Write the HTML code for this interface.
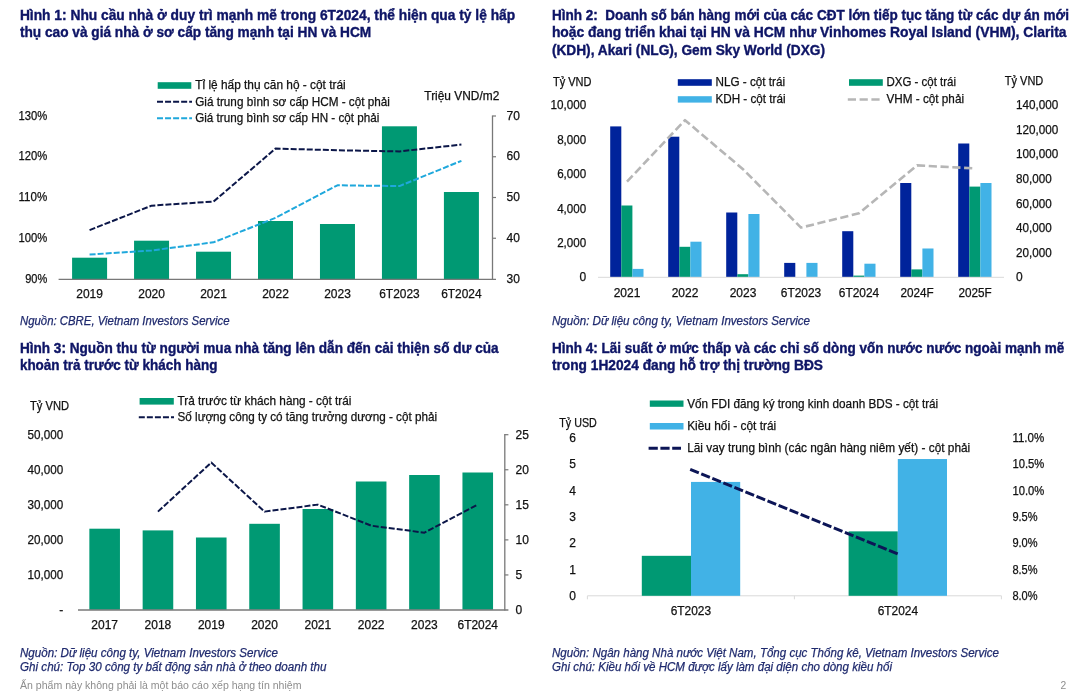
<!DOCTYPE html>
<html lang="vi">
<head>
<meta charset="utf-8">
<title>Hình 1–4</title>
<style>
html,body{margin:0;padding:0;background:#fff;}
body{width:1072px;height:695px;overflow:hidden;}
svg{display:block;font-family:"Liberation Sans",sans-serif;}
</style>
</head>
<body>
<svg width="1072" height="695" viewBox="0 0 1072 695">
<rect width="1072" height="695" fill="#ffffff"/>
<text x="19.90" y="20.00" font-size="15.0" fill="#0e1566" font-weight="bold" textLength="495.30" lengthAdjust="spacingAndGlyphs" stroke="#0e1566" stroke-width="0.4">Hình 1: Nhu cầu nhà ở duy trì mạnh mẽ trong 6T2024, thể hiện qua tỷ lệ hấp</text>
<text x="19.90" y="36.90" font-size="15.0" fill="#0e1566" font-weight="bold" textLength="351.30" lengthAdjust="spacingAndGlyphs" stroke="#0e1566" stroke-width="0.4">thụ cao và giá nhà ở sơ cấp tăng mạnh tại HN và HCM</text>
<text x="551.90" y="20.00" font-size="15.0" fill="#0e1566" font-weight="bold" textLength="517.10" lengthAdjust="spacingAndGlyphs" stroke="#0e1566" stroke-width="0.4" xml:space="preserve">Hình 2:  Doanh số bán hàng mới của các CĐT lớn tiếp tục tăng từ các dự án mới</text>
<text x="551.90" y="36.90" font-size="15.0" fill="#0e1566" font-weight="bold" textLength="514.60" lengthAdjust="spacingAndGlyphs" stroke="#0e1566" stroke-width="0.4">hoặc đang triển khai tại HN và HCM như Vinhomes Royal Island (VHM), Clarita</text>
<text x="551.90" y="54.60" font-size="15.0" fill="#0e1566" font-weight="bold" textLength="273.10" lengthAdjust="spacingAndGlyphs" stroke="#0e1566" stroke-width="0.4">(KDH), Akari (NLG), Gem Sky World (DXG)</text>
<text x="19.90" y="353.20" font-size="15.0" fill="#0e1566" font-weight="bold" textLength="478.70" lengthAdjust="spacingAndGlyphs" stroke="#0e1566" stroke-width="0.4">Hình 3: Nguồn thu từ người mua nhà tăng lên dẫn đến cải thiện số dư của</text>
<text x="19.90" y="370.10" font-size="15.0" fill="#0e1566" font-weight="bold" textLength="197.60" lengthAdjust="spacingAndGlyphs" stroke="#0e1566" stroke-width="0.4">khoản trả trước từ khách hàng</text>
<text x="551.90" y="353.20" font-size="15.0" fill="#0e1566" font-weight="bold" textLength="512.30" lengthAdjust="spacingAndGlyphs" stroke="#0e1566" stroke-width="0.4">Hình 4: Lãi suất ở mức thấp và các chỉ số dòng vốn nước nước ngoài mạnh mẽ</text>
<text x="551.90" y="370.10" font-size="15.0" fill="#0e1566" font-weight="bold" textLength="271.10" lengthAdjust="spacingAndGlyphs" stroke="#0e1566" stroke-width="0.4">trong 1H2024 đang hỗ trợ thị trường BĐS</text>
<rect x="72.09" y="257.70" width="35.00" height="21.30" fill="#009973"/>
<rect x="134.06" y="240.70" width="35.00" height="38.30" fill="#009973"/>
<rect x="196.03" y="251.70" width="35.00" height="27.30" fill="#009973"/>
<rect x="258.00" y="221.00" width="35.00" height="58.00" fill="#009973"/>
<rect x="319.97" y="224.00" width="35.00" height="55.00" fill="#009973"/>
<rect x="381.94" y="126.30" width="35.00" height="152.70" fill="#009973"/>
<rect x="443.91" y="192.00" width="35.00" height="87.00" fill="#009973"/>
<line x1="58.60" y1="279.30" x2="496.00" y2="279.30" stroke="#787878" stroke-width="1.3"/>
<line x1="492.50" y1="115.50" x2="492.50" y2="279.80" stroke="#787878" stroke-width="1.3"/>
<line x1="492.50" y1="238.25" x2="496.00" y2="238.25" stroke="#787878" stroke-width="1.2"/>
<line x1="492.50" y1="197.50" x2="496.00" y2="197.50" stroke="#787878" stroke-width="1.2"/>
<line x1="492.50" y1="156.75" x2="496.00" y2="156.75" stroke="#787878" stroke-width="1.2"/>
<line x1="492.50" y1="116.00" x2="496.00" y2="116.00" stroke="#787878" stroke-width="1.2"/>
<text x="47.20" y="283.15" font-size="12.0" fill="#111111" text-anchor="end" textLength="22.04" lengthAdjust="spacingAndGlyphs" stroke="#111111" stroke-width="0.25">90%</text>
<text x="506.60" y="283.05" font-size="12.0" fill="#111111" textLength="13.34" lengthAdjust="spacingAndGlyphs" stroke="#111111" stroke-width="0.25">30</text>
<text x="47.20" y="242.35" font-size="12.0" fill="#111111" text-anchor="end" textLength="28.71" lengthAdjust="spacingAndGlyphs" stroke="#111111" stroke-width="0.25">100%</text>
<text x="506.60" y="242.35" font-size="12.0" fill="#111111" textLength="13.34" lengthAdjust="spacingAndGlyphs" stroke="#111111" stroke-width="0.25">40</text>
<text x="47.20" y="201.15" font-size="12.0" fill="#111111" text-anchor="end" textLength="28.71" lengthAdjust="spacingAndGlyphs" stroke="#111111" stroke-width="0.25">110%</text>
<text x="506.60" y="201.15" font-size="12.0" fill="#111111" textLength="13.34" lengthAdjust="spacingAndGlyphs" stroke="#111111" stroke-width="0.25">50</text>
<text x="47.20" y="160.15" font-size="12.0" fill="#111111" text-anchor="end" textLength="28.71" lengthAdjust="spacingAndGlyphs" stroke="#111111" stroke-width="0.25">120%</text>
<text x="506.60" y="160.15" font-size="12.0" fill="#111111" textLength="13.34" lengthAdjust="spacingAndGlyphs" stroke="#111111" stroke-width="0.25">60</text>
<text x="47.20" y="120.05" font-size="12.0" fill="#111111" text-anchor="end" textLength="28.71" lengthAdjust="spacingAndGlyphs" stroke="#111111" stroke-width="0.25">130%</text>
<text x="506.60" y="120.05" font-size="12.0" fill="#111111" textLength="13.34" lengthAdjust="spacingAndGlyphs" stroke="#111111" stroke-width="0.25">70</text>
<text x="89.59" y="298.05" font-size="12.0" fill="#111111" text-anchor="middle" textLength="26.68" lengthAdjust="spacingAndGlyphs" stroke="#111111" stroke-width="0.25">2019</text>
<text x="151.56" y="298.05" font-size="12.0" fill="#111111" text-anchor="middle" textLength="26.68" lengthAdjust="spacingAndGlyphs" stroke="#111111" stroke-width="0.25">2020</text>
<text x="213.53" y="298.05" font-size="12.0" fill="#111111" text-anchor="middle" textLength="26.68" lengthAdjust="spacingAndGlyphs" stroke="#111111" stroke-width="0.25">2021</text>
<text x="275.50" y="298.05" font-size="12.0" fill="#111111" text-anchor="middle" textLength="26.68" lengthAdjust="spacingAndGlyphs" stroke="#111111" stroke-width="0.25">2022</text>
<text x="337.47" y="298.05" font-size="12.0" fill="#111111" text-anchor="middle" textLength="26.68" lengthAdjust="spacingAndGlyphs" stroke="#111111" stroke-width="0.25">2023</text>
<text x="399.44" y="298.05" font-size="12.0" fill="#111111" text-anchor="middle" textLength="40.44" lengthAdjust="spacingAndGlyphs" stroke="#111111" stroke-width="0.25">6T2023</text>
<text x="461.41" y="298.05" font-size="12.0" fill="#111111" text-anchor="middle" textLength="40.44" lengthAdjust="spacingAndGlyphs" stroke="#111111" stroke-width="0.25">6T2024</text>
<polyline points="89.59,254.55 151.56,250.47 213.53,242.32 275.50,217.88 337.47,185.28 399.44,186.09 461.41,160.82" fill="none" stroke="#1fa8dc" stroke-width="2.0" stroke-dasharray="6 2.05" stroke-linejoin="round"/>
<polyline points="89.59,230.10 151.56,205.65 213.53,201.57 275.50,148.60 337.47,150.23 399.44,151.45 461.41,144.53" fill="none" stroke="#0b1648" stroke-width="2.0" stroke-dasharray="6 2.05" stroke-linejoin="round"/>
<rect x="157.70" y="82.20" width="33.60" height="6.60" fill="#009973"/>
<text x="195.20" y="89.35" font-size="12.0" fill="#111111" textLength="150.50" lengthAdjust="spacingAndGlyphs" stroke="#111111" stroke-width="0.25">Tỉ lệ hấp thụ căn hộ - cột trái</text>
<line x1="157" y1="101.8" x2="192" y2="101.8" stroke="#0b1648" stroke-width="2" stroke-dasharray="6 2.05"/>
<text x="195.20" y="105.75" font-size="12.0" fill="#111111" textLength="194.70" lengthAdjust="spacingAndGlyphs" stroke="#111111" stroke-width="0.25">Giá trung bình sơ cấp HCM - cột phải</text>
<line x1="157" y1="118.2" x2="192" y2="118.2" stroke="#1fa8dc" stroke-width="2" stroke-dasharray="6 2.05"/>
<text x="195.20" y="121.65" font-size="12.0" fill="#111111" textLength="184.20" lengthAdjust="spacingAndGlyphs" stroke="#111111" stroke-width="0.25">Giá trung bình sơ cấp HN - cột phải</text>
<text x="424.30" y="99.85" font-size="12.0" fill="#111111" textLength="75.00" lengthAdjust="spacingAndGlyphs" stroke="#111111" stroke-width="0.25">Triệu VND/m2</text>
<text x="20.00" y="324.95" font-size="12.0" fill="#1f2a6e" font-style="italic" textLength="209.50" lengthAdjust="spacingAndGlyphs" stroke="#1f2a6e" stroke-width="0.25">Nguồn: CBRE, Vietnam Investors Service</text>
<rect x="610.20" y="126.40" width="11.10" height="150.60" fill="#00239b"/>
<rect x="621.30" y="205.50" width="11.10" height="71.50" fill="#009973"/>
<rect x="632.40" y="268.90" width="11.10" height="8.10" fill="#41b2e6"/>
<rect x="668.20" y="136.70" width="11.10" height="140.30" fill="#00239b"/>
<rect x="679.30" y="246.80" width="11.10" height="30.20" fill="#009973"/>
<rect x="690.40" y="241.70" width="11.10" height="35.30" fill="#41b2e6"/>
<rect x="726.20" y="212.50" width="11.10" height="64.50" fill="#00239b"/>
<rect x="737.30" y="274.20" width="11.10" height="2.80" fill="#009973"/>
<rect x="748.40" y="214.00" width="11.10" height="63.00" fill="#41b2e6"/>
<rect x="784.20" y="262.90" width="11.10" height="14.10" fill="#00239b"/>
<rect x="806.40" y="262.90" width="11.10" height="14.10" fill="#41b2e6"/>
<rect x="842.20" y="231.20" width="11.10" height="45.80" fill="#00239b"/>
<rect x="853.30" y="275.60" width="11.10" height="1.40" fill="#009973"/>
<rect x="864.40" y="263.70" width="11.10" height="13.30" fill="#41b2e6"/>
<rect x="900.20" y="183.00" width="11.10" height="94.00" fill="#00239b"/>
<rect x="911.30" y="269.40" width="11.10" height="7.60" fill="#009973"/>
<rect x="922.40" y="248.50" width="11.10" height="28.50" fill="#41b2e6"/>
<rect x="958.20" y="143.50" width="11.10" height="133.50" fill="#00239b"/>
<rect x="969.30" y="186.60" width="11.10" height="90.40" fill="#009973"/>
<rect x="980.40" y="183.00" width="11.10" height="94.00" fill="#41b2e6"/>
<line x1="598.00" y1="277.30" x2="1004.00" y2="277.30" stroke="#d9d9d9" stroke-width="1"/>
<polyline points="627.00,181.60 685.00,120.20 743.00,169.20 801.00,227.60 859.00,213.30 917.00,165.40 975.00,168.40" fill="none" stroke="#b6b6b6" stroke-width="2.6" stroke-dasharray="8.2 3.6" stroke-linejoin="round"/>
<text x="586.20" y="281.45" font-size="12.0" fill="#111111" text-anchor="end" stroke="#111111" stroke-width="0.25">0</text>
<text x="586.20" y="246.95" font-size="12.0" fill="#111111" text-anchor="end" textLength="29.02" lengthAdjust="spacingAndGlyphs" stroke="#111111" stroke-width="0.25">2,000</text>
<text x="586.20" y="212.55" font-size="12.0" fill="#111111" text-anchor="end" textLength="29.02" lengthAdjust="spacingAndGlyphs" stroke="#111111" stroke-width="0.25">4,000</text>
<text x="586.20" y="178.15" font-size="12.0" fill="#111111" text-anchor="end" textLength="29.02" lengthAdjust="spacingAndGlyphs" stroke="#111111" stroke-width="0.25">6,000</text>
<text x="586.20" y="143.95" font-size="12.0" fill="#111111" text-anchor="end" textLength="29.02" lengthAdjust="spacingAndGlyphs" stroke="#111111" stroke-width="0.25">8,000</text>
<text x="586.20" y="109.15" font-size="12.0" fill="#111111" text-anchor="end" textLength="35.69" lengthAdjust="spacingAndGlyphs" stroke="#111111" stroke-width="0.25">10,000</text>
<text x="1016.00" y="281.45" font-size="12.0" fill="#111111" stroke="#111111" stroke-width="0.25">0</text>
<text x="1016.00" y="256.82" font-size="12.0" fill="#111111" textLength="35.69" lengthAdjust="spacingAndGlyphs" stroke="#111111" stroke-width="0.25">20,000</text>
<text x="1016.00" y="232.19" font-size="12.0" fill="#111111" textLength="35.69" lengthAdjust="spacingAndGlyphs" stroke="#111111" stroke-width="0.25">40,000</text>
<text x="1016.00" y="207.56" font-size="12.0" fill="#111111" textLength="35.69" lengthAdjust="spacingAndGlyphs" stroke="#111111" stroke-width="0.25">60,000</text>
<text x="1016.00" y="182.94" font-size="12.0" fill="#111111" textLength="35.69" lengthAdjust="spacingAndGlyphs" stroke="#111111" stroke-width="0.25">80,000</text>
<text x="1016.00" y="158.31" font-size="12.0" fill="#111111" textLength="42.36" lengthAdjust="spacingAndGlyphs" stroke="#111111" stroke-width="0.25">100,000</text>
<text x="1016.00" y="133.68" font-size="12.0" fill="#111111" textLength="42.36" lengthAdjust="spacingAndGlyphs" stroke="#111111" stroke-width="0.25">120,000</text>
<text x="1016.00" y="109.05" font-size="12.0" fill="#111111" textLength="42.36" lengthAdjust="spacingAndGlyphs" stroke="#111111" stroke-width="0.25">140,000</text>
<text x="627.00" y="296.85" font-size="12.0" fill="#111111" text-anchor="middle" textLength="26.68" lengthAdjust="spacingAndGlyphs" stroke="#111111" stroke-width="0.25">2021</text>
<text x="685.00" y="296.85" font-size="12.0" fill="#111111" text-anchor="middle" textLength="26.68" lengthAdjust="spacingAndGlyphs" stroke="#111111" stroke-width="0.25">2022</text>
<text x="743.00" y="296.85" font-size="12.0" fill="#111111" text-anchor="middle" textLength="26.68" lengthAdjust="spacingAndGlyphs" stroke="#111111" stroke-width="0.25">2023</text>
<text x="801.00" y="296.85" font-size="12.0" fill="#111111" text-anchor="middle" textLength="40.44" lengthAdjust="spacingAndGlyphs" stroke="#111111" stroke-width="0.25">6T2023</text>
<text x="859.00" y="296.85" font-size="12.0" fill="#111111" text-anchor="middle" textLength="40.44" lengthAdjust="spacingAndGlyphs" stroke="#111111" stroke-width="0.25">6T2024</text>
<text x="917.00" y="296.85" font-size="12.0" fill="#111111" text-anchor="middle" textLength="33.25" lengthAdjust="spacingAndGlyphs" stroke="#111111" stroke-width="0.25">2024F</text>
<text x="975.00" y="296.85" font-size="12.0" fill="#111111" text-anchor="middle" textLength="33.25" lengthAdjust="spacingAndGlyphs" stroke="#111111" stroke-width="0.25">2025F</text>
<text x="553.00" y="86.05" font-size="12.0" fill="#111111" textLength="38.50" lengthAdjust="spacingAndGlyphs" stroke="#111111" stroke-width="0.25">Tỷ VND</text>
<text x="1004.80" y="84.85" font-size="12.0" fill="#111111" textLength="38.50" lengthAdjust="spacingAndGlyphs" stroke="#111111" stroke-width="0.25">Tỷ VND</text>
<rect x="677.80" y="79.20" width="34.00" height="6.60" fill="#00239b"/>
<text x="715.50" y="86.25" font-size="12.0" fill="#111111" textLength="69.50" lengthAdjust="spacingAndGlyphs" stroke="#111111" stroke-width="0.25">NLG - cột trái</text>
<rect x="677.80" y="96.20" width="34.00" height="6.40" fill="#41b2e6"/>
<text x="715.50" y="103.25" font-size="12.0" fill="#111111" textLength="70.00" lengthAdjust="spacingAndGlyphs" stroke="#111111" stroke-width="0.25">KDH - cột trái</text>
<rect x="849.00" y="79.20" width="33.80" height="6.60" fill="#009973"/>
<text x="886.50" y="86.25" font-size="12.0" fill="#111111" textLength="69.50" lengthAdjust="spacingAndGlyphs" stroke="#111111" stroke-width="0.25">DXG - cột trái</text>
<line x1="847.8" y1="99.5" x2="880" y2="99.5" stroke="#b6b6b6" stroke-width="2.6" stroke-dasharray="8.2 3.6"/>
<text x="886.50" y="103.25" font-size="12.0" fill="#111111" textLength="77.50" lengthAdjust="spacingAndGlyphs" stroke="#111111" stroke-width="0.25">VHM - cột phải</text>
<text x="552.00" y="324.95" font-size="12.0" fill="#1f2a6e" font-style="italic" textLength="258.00" lengthAdjust="spacingAndGlyphs" stroke="#1f2a6e" stroke-width="0.25">Nguồn: Dữ liệu công ty, Vietnam Investors Service</text>
<rect x="89.35" y="528.70" width="30.60" height="81.10" fill="#009973"/>
<rect x="142.65" y="530.40" width="30.60" height="79.40" fill="#009973"/>
<rect x="195.95" y="537.50" width="30.60" height="72.30" fill="#009973"/>
<rect x="249.25" y="523.80" width="30.60" height="86.00" fill="#009973"/>
<rect x="302.55" y="509.00" width="30.60" height="100.80" fill="#009973"/>
<rect x="355.85" y="481.50" width="30.60" height="128.30" fill="#009973"/>
<rect x="409.15" y="475.00" width="30.60" height="134.80" fill="#009973"/>
<rect x="462.45" y="472.50" width="30.60" height="137.30" fill="#009973"/>
<line x1="78.00" y1="610.00" x2="508.40" y2="610.00" stroke="#787878" stroke-width="1.3"/>
<line x1="504.80" y1="434.10" x2="504.80" y2="610.60" stroke="#787878" stroke-width="1.3"/>
<line x1="504.80" y1="574.94" x2="508.40" y2="574.94" stroke="#787878" stroke-width="1.2"/>
<line x1="504.80" y1="539.88" x2="508.40" y2="539.88" stroke="#787878" stroke-width="1.2"/>
<line x1="504.80" y1="504.82" x2="508.40" y2="504.82" stroke="#787878" stroke-width="1.2"/>
<line x1="504.80" y1="469.76" x2="508.40" y2="469.76" stroke="#787878" stroke-width="1.2"/>
<line x1="504.80" y1="434.70" x2="508.40" y2="434.70" stroke="#787878" stroke-width="1.2"/>
<text x="63.30" y="613.85" font-size="12.0" fill="#111111" text-anchor="end" stroke="#111111" stroke-width="0.25">-</text>
<text x="515.60" y="613.85" font-size="12.0" fill="#111111" stroke="#111111" stroke-width="0.25">0</text>
<text x="63.30" y="578.79" font-size="12.0" fill="#111111" text-anchor="end" textLength="35.69" lengthAdjust="spacingAndGlyphs" stroke="#111111" stroke-width="0.25">10,000</text>
<text x="515.60" y="578.79" font-size="12.0" fill="#111111" stroke="#111111" stroke-width="0.25">5</text>
<text x="63.30" y="543.73" font-size="12.0" fill="#111111" text-anchor="end" textLength="35.69" lengthAdjust="spacingAndGlyphs" stroke="#111111" stroke-width="0.25">20,000</text>
<text x="515.60" y="543.73" font-size="12.0" fill="#111111" textLength="13.34" lengthAdjust="spacingAndGlyphs" stroke="#111111" stroke-width="0.25">10</text>
<text x="63.30" y="508.67" font-size="12.0" fill="#111111" text-anchor="end" textLength="35.69" lengthAdjust="spacingAndGlyphs" stroke="#111111" stroke-width="0.25">30,000</text>
<text x="515.60" y="508.67" font-size="12.0" fill="#111111" textLength="13.34" lengthAdjust="spacingAndGlyphs" stroke="#111111" stroke-width="0.25">15</text>
<text x="63.30" y="473.61" font-size="12.0" fill="#111111" text-anchor="end" textLength="35.69" lengthAdjust="spacingAndGlyphs" stroke="#111111" stroke-width="0.25">40,000</text>
<text x="515.60" y="473.61" font-size="12.0" fill="#111111" textLength="13.34" lengthAdjust="spacingAndGlyphs" stroke="#111111" stroke-width="0.25">20</text>
<text x="63.30" y="438.55" font-size="12.0" fill="#111111" text-anchor="end" textLength="35.69" lengthAdjust="spacingAndGlyphs" stroke="#111111" stroke-width="0.25">50,000</text>
<text x="515.60" y="438.55" font-size="12.0" fill="#111111" textLength="13.34" lengthAdjust="spacingAndGlyphs" stroke="#111111" stroke-width="0.25">25</text>
<text x="104.65" y="629.05" font-size="12.0" fill="#111111" text-anchor="middle" textLength="26.68" lengthAdjust="spacingAndGlyphs" stroke="#111111" stroke-width="0.25">2017</text>
<text x="157.95" y="629.05" font-size="12.0" fill="#111111" text-anchor="middle" textLength="26.68" lengthAdjust="spacingAndGlyphs" stroke="#111111" stroke-width="0.25">2018</text>
<text x="211.25" y="629.05" font-size="12.0" fill="#111111" text-anchor="middle" textLength="26.68" lengthAdjust="spacingAndGlyphs" stroke="#111111" stroke-width="0.25">2019</text>
<text x="264.55" y="629.05" font-size="12.0" fill="#111111" text-anchor="middle" textLength="26.68" lengthAdjust="spacingAndGlyphs" stroke="#111111" stroke-width="0.25">2020</text>
<text x="317.85" y="629.05" font-size="12.0" fill="#111111" text-anchor="middle" textLength="26.68" lengthAdjust="spacingAndGlyphs" stroke="#111111" stroke-width="0.25">2021</text>
<text x="371.15" y="629.05" font-size="12.0" fill="#111111" text-anchor="middle" textLength="26.68" lengthAdjust="spacingAndGlyphs" stroke="#111111" stroke-width="0.25">2022</text>
<text x="424.45" y="629.05" font-size="12.0" fill="#111111" text-anchor="middle" textLength="26.68" lengthAdjust="spacingAndGlyphs" stroke="#111111" stroke-width="0.25">2023</text>
<text x="477.75" y="629.05" font-size="12.0" fill="#111111" text-anchor="middle" textLength="40.44" lengthAdjust="spacingAndGlyphs" stroke="#111111" stroke-width="0.25">6T2024</text>
<polyline points="157.95,511.63 211.25,462.55 264.55,511.63 317.85,504.62 371.15,525.66 424.45,532.67 477.75,504.62" fill="none" stroke="#0b1648" stroke-width="2.0" stroke-dasharray="6 2.05" stroke-linejoin="round"/>
<text x="30.00" y="409.85" font-size="12.0" fill="#111111" textLength="39.00" lengthAdjust="spacingAndGlyphs" stroke="#111111" stroke-width="0.25">Tỷ VND</text>
<rect x="139.60" y="398.00" width="34.20" height="6.60" fill="#009973"/>
<text x="177.50" y="405.35" font-size="12.0" fill="#111111" textLength="174.00" lengthAdjust="spacingAndGlyphs" stroke="#111111" stroke-width="0.25">Trả trước từ khách hàng - cột trái</text>
<line x1="138.8" y1="417.3" x2="174" y2="417.3" stroke="#0b1648" stroke-width="2" stroke-dasharray="6 2.05"/>
<text x="177.50" y="421.25" font-size="12.0" fill="#111111" textLength="259.50" lengthAdjust="spacingAndGlyphs" stroke="#111111" stroke-width="0.25">Số lượng công ty có tăng trưởng dương - cột phải</text>
<text x="20.00" y="657.35" font-size="12.0" fill="#1f2a6e" font-style="italic" textLength="258.00" lengthAdjust="spacingAndGlyphs" stroke="#1f2a6e" stroke-width="0.25">Nguồn: Dữ liệu công ty, Vietnam Investors Service</text>
<text x="20.00" y="671.35" font-size="12.0" fill="#1f2a6e" font-style="italic" textLength="306.50" lengthAdjust="spacingAndGlyphs" stroke="#1f2a6e" stroke-width="0.25">Ghi chú: Top 30 công ty bất động sản nhà ở theo doanh thu</text>
<line x1="587.40" y1="595.80" x2="1001.40" y2="595.80" stroke="#d9d9d9" stroke-width="1"/>
<line x1="587.40" y1="595.80" x2="587.40" y2="599.30" stroke="#d9d9d9" stroke-width="1"/>
<line x1="794.40" y1="595.80" x2="794.40" y2="599.30" stroke="#d9d9d9" stroke-width="1"/>
<line x1="1001.40" y1="595.80" x2="1001.40" y2="599.30" stroke="#d9d9d9" stroke-width="1"/>
<rect x="641.80" y="555.82" width="49.20" height="39.98" fill="#009973"/>
<rect x="691.00" y="481.92" width="49.20" height="113.88" fill="#41b2e6"/>
<rect x="848.60" y="531.37" width="49.20" height="64.43" fill="#009973"/>
<rect x="897.80" y="459.04" width="49.20" height="136.76" fill="#41b2e6"/>
<polyline points="690.20,469.30 897.70,553.90" fill="none" stroke="#0c1556" stroke-width="3.0" stroke-dasharray="9.3 2.63" stroke-linejoin="round"/>
<text x="576.00" y="599.85" font-size="12.0" fill="#111111" text-anchor="end" stroke="#111111" stroke-width="0.25">0</text>
<text x="1012.40" y="599.85" font-size="12.0" fill="#111111" textLength="25.17" lengthAdjust="spacingAndGlyphs" stroke="#111111" stroke-width="0.25">8.0%</text>
<text x="576.00" y="573.55" font-size="12.0" fill="#111111" text-anchor="end" stroke="#111111" stroke-width="0.25">1</text>
<text x="1012.40" y="573.55" font-size="12.0" fill="#111111" textLength="25.17" lengthAdjust="spacingAndGlyphs" stroke="#111111" stroke-width="0.25">8.5%</text>
<text x="576.00" y="547.25" font-size="12.0" fill="#111111" text-anchor="end" stroke="#111111" stroke-width="0.25">2</text>
<text x="1012.40" y="547.25" font-size="12.0" fill="#111111" textLength="25.17" lengthAdjust="spacingAndGlyphs" stroke="#111111" stroke-width="0.25">9.0%</text>
<text x="576.00" y="520.95" font-size="12.0" fill="#111111" text-anchor="end" stroke="#111111" stroke-width="0.25">3</text>
<text x="1012.40" y="520.95" font-size="12.0" fill="#111111" textLength="25.17" lengthAdjust="spacingAndGlyphs" stroke="#111111" stroke-width="0.25">9.5%</text>
<text x="576.00" y="494.65" font-size="12.0" fill="#111111" text-anchor="end" stroke="#111111" stroke-width="0.25">4</text>
<text x="1012.40" y="494.65" font-size="12.0" fill="#111111" textLength="31.84" lengthAdjust="spacingAndGlyphs" stroke="#111111" stroke-width="0.25">10.0%</text>
<text x="576.00" y="468.35" font-size="12.0" fill="#111111" text-anchor="end" stroke="#111111" stroke-width="0.25">5</text>
<text x="1012.40" y="468.35" font-size="12.0" fill="#111111" textLength="31.84" lengthAdjust="spacingAndGlyphs" stroke="#111111" stroke-width="0.25">10.5%</text>
<text x="576.00" y="442.05" font-size="12.0" fill="#111111" text-anchor="end" stroke="#111111" stroke-width="0.25">6</text>
<text x="1012.40" y="442.05" font-size="12.0" fill="#111111" textLength="31.84" lengthAdjust="spacingAndGlyphs" stroke="#111111" stroke-width="0.25">11.0%</text>
<text x="690.90" y="615.25" font-size="12.0" fill="#111111" text-anchor="middle" textLength="40.44" lengthAdjust="spacingAndGlyphs" stroke="#111111" stroke-width="0.25">6T2023</text>
<text x="897.90" y="615.25" font-size="12.0" fill="#111111" text-anchor="middle" textLength="40.44" lengthAdjust="spacingAndGlyphs" stroke="#111111" stroke-width="0.25">6T2024</text>
<text x="559.30" y="427.05" font-size="12.0" fill="#111111" textLength="37.50" lengthAdjust="spacingAndGlyphs" stroke="#111111" stroke-width="0.25">Tỷ USD</text>
<rect x="649.80" y="400.50" width="33.70" height="6.30" fill="#009973"/>
<text x="687.20" y="407.85" font-size="12.0" fill="#111111" textLength="251.00" lengthAdjust="spacingAndGlyphs" stroke="#111111" stroke-width="0.25">Vốn FDI đăng ký trong kinh doanh BDS - cột trái</text>
<rect x="649.80" y="423.00" width="33.70" height="6.50" fill="#41b2e6"/>
<text x="687.20" y="430.05" font-size="12.0" fill="#111111" textLength="89.00" lengthAdjust="spacingAndGlyphs" stroke="#111111" stroke-width="0.25">Kiều hối - cột trái</text>
<line x1="648.6" y1="448.3" x2="681" y2="448.3" stroke="#0c1556" stroke-width="3" stroke-dasharray="9.2 2.6"/>
<text x="687.20" y="452.25" font-size="12.0" fill="#111111" textLength="283.00" lengthAdjust="spacingAndGlyphs" stroke="#111111" stroke-width="0.25">Lãi vay trung bình (các ngân hàng niêm yết) - cột phải</text>
<text x="552.00" y="657.35" font-size="12.0" fill="#1f2a6e" font-style="italic" textLength="447.00" lengthAdjust="spacingAndGlyphs" stroke="#1f2a6e" stroke-width="0.25">Nguồn: Ngân hàng Nhà nước Việt Nam, Tổng cục Thống kê, Vietnam Investors Service</text>
<text x="552.00" y="671.35" font-size="12.0" fill="#1f2a6e" font-style="italic" textLength="340.00" lengthAdjust="spacingAndGlyphs" stroke="#1f2a6e" stroke-width="0.25">Ghi chú: Kiều hối về HCM được lấy làm đại diện cho dòng kiều hối</text>
<text x="20.00" y="689.14" font-size="10.3" fill="#8e8e8e" textLength="281.50" lengthAdjust="spacingAndGlyphs">Ấn phẩm này không phải là một báo cáo xếp hạng tín nhiệm</text>
<text x="1060.60" y="689.14" font-size="10.3" fill="#8e8e8e">2</text>
</svg>
</body>
</html>
